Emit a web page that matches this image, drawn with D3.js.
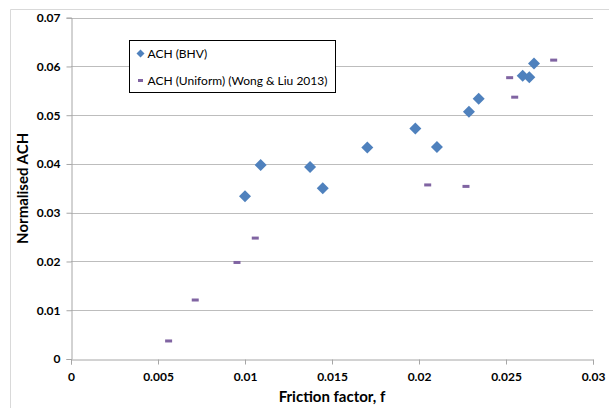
<!DOCTYPE html>
<html>
<head>
<meta charset="utf-8">
<script src="https://cdn.jsdelivr.net/npm/d3@7"></script>
<style>
  body { margin: 0; background: #fff; }
  text { font-family: Lato, "Open Sans", sans-serif; }
</style>
</head>
<body>
<div id="chart"></div>
<script>
// BHV series
var bhvX = [0.0100, 0.0109, 0.01374, 0.01447, 0.01703, 0.01979, 0.02103, 0.02287, 0.02343, 0.02596, 0.02634, 0.02661];
var bhvY = [0.0334, 0.0398, 0.0394, 0.0350, 0.0434, 0.0473, 0.0435, 0.0507, 0.0534, 0.0581, 0.0578, 0.0606];
// Uniform series (Wong & Liu 2013)
var uniX = [0.00561, 0.00714, 0.00954, 0.01059, 0.0205, 0.0227, 0.02521, 0.0255, 0.02774];
var uniY = [0.0037, 0.0121, 0.0198, 0.0248, 0.0357, 0.0354, 0.0577, 0.0537, 0.0613];

var xTicks = [0, 0.005, 0.01, 0.015, 0.02, 0.025, 0.03];
var yTicks = [0, 0.01, 0.02, 0.03, 0.04, 0.05, 0.06, 0.07];
var seriesNames = ["ACH (BHV)", "ACH (Uniform) (Wong & Liu 2013)"];

var W = 609, H = 408;
var margin = { left: 71, top: 17.7, right: 16, bottom: 49 };

var svg = d3.select("#chart").append("svg")
    .attr("width", W)
    .attr("height", H);

// outer chart frame (runs off the right / bottom edge)
svg.append("path")
    .attr("d", "M10.5," + (H + 2) + "V9.5H" + (W + 2))
    .attr("fill", "none")
    .attr("stroke", "#d9d9d9");

var x = d3.scaleLinear().domain([0, 0.03]).range([margin.left, W - margin.right]);
var y = d3.scaleLinear().domain([0, 0.07]).range([H - margin.bottom, margin.top]);

// gridlines
svg.append("g")
    .selectAll("line")
    .data(yTicks.slice(1))
    .enter().append("line")
    .attr("x1", x(0)).attr("x2", x(0.03))
    .attr("y1", function (d) { return Math.round(y(d)) + 0.5; })
    .attr("y2", function (d) { return Math.round(y(d)) + 0.5; })
    .attr("stroke", "#bdbdbd");

// axes
var xAxis = svg.append("g")
    .attr("transform", "translate(0," + (Math.round(y(0)) + 0.5) + ")")
    .call(d3.axisBottom(x).tickValues(xTicks).tickSize(5).tickPadding(8)
        .tickFormat(function (d) { return d === 0 ? "0" : d3.format("")(+d.toFixed(3)); }));
var yAxis = svg.append("g")
    .attr("transform", "translate(" + (Math.round(x(0)) + 0.5) + ",0)")
    .call(d3.axisLeft(y).tickValues(yTicks).tickSize(5).tickPadding(6)
        .tickFormat(function (d) { return d === 0 ? "0" : d3.format("")(+d.toFixed(2)); }));

[xAxis, yAxis].forEach(function (a) {
    a.select(".domain").attr("stroke", "#a6a6a6");
    a.selectAll(".tick line").attr("stroke", "#a6a6a6");
    a.selectAll(".tick text")
        .attr("fill", "#000")
        .style("font-size", "12px")
        .style("font-weight", "bold")
        .style("font-family", "Lato, sans-serif");
});

// axis titles
svg.append("text")
    .attr("x", (x(0) + x(0.03)) / 2)
    .attr("y", 402)
    .attr("text-anchor", "middle")
    .style("font-size", "15px")
    .style("font-weight", "bold")
    .text("Friction factor, f");

svg.append("text")
    .attr("transform", "translate(28," + ((y(0) + y(0.07)) / 2) + ")rotate(-90)")
    .attr("text-anchor", "middle")
    .style("font-size", "15px")
    .style("font-weight", "bold")
    .text("Normalised ACH");

var blue = "#4f81bd", purple = "#8064a2";

// BHV diamonds
var bhv = bhvX.map(function (d, i) { return [d, bhvY[i]]; });
svg.append("g")
    .selectAll("path")
    .data(bhv)
    .enter().append("path")
    .attr("transform", function (d) { return "translate(" + x(d[0]) + "," + y(d[1]) + ")"; })
    .attr("d", "M0,-6L6,0L0,6L-6,0Z")
    .attr("fill", blue);

// Uniform dashes
var uni = uniX.map(function (d, i) { return [d, uniY[i]]; });
svg.append("g")
    .selectAll("rect")
    .data(uni)
    .enter().append("rect")
    .attr("x", function (d) { return x(d[0]) - 3.5; })
    .attr("y", function (d) { return y(d[1]) - 1.5; })
    .attr("width", 7)
    .attr("height", 3)
    .attr("fill", purple);

// legend
var lg = svg.append("g").attr("transform", "translate(129.5,40.5)");
lg.append("rect")
    .attr("width", 206)
    .attr("height", 52)
    .attr("fill", "#fff")
    .attr("stroke", "#000");
lg.append("path")
    .attr("transform", "translate(11,13)")
    .attr("d", "M0,-4L4,0L0,4L-4,0Z")
    .attr("fill", blue);
lg.append("rect")
    .attr("x", 8.5).attr("y", 38.5)
    .attr("width", 5).attr("height", 3)
    .attr("fill", purple);
lg.selectAll("text.item")
    .data(seriesNames)
    .enter().append("text")
    .attr("class", "item")
    .attr("x", 18)
    .attr("y", function (d, i) { return 13 + i * 27; })
    .attr("dy", "0.35em")
    .style("font-size", "12px")
    .text(function (d) { return d; });
</script>
</body>
</html>
